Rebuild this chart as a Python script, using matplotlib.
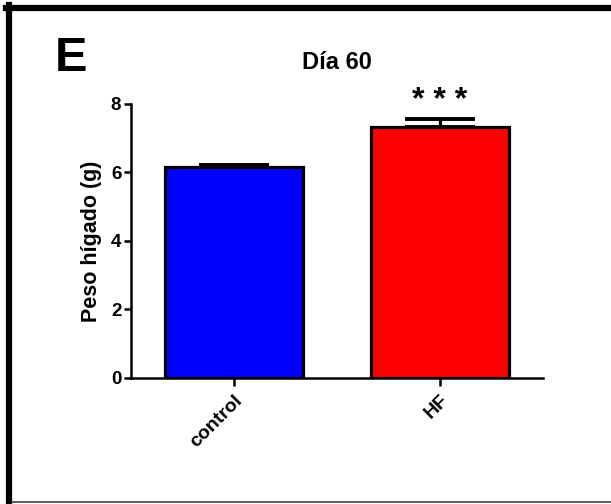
import numpy as np
import matplotlib.pyplot as plt
from matplotlib.lines import Line2D

plt.rcParams["font.family"] = ["Liberation Sans", "DejaVu Sans"]
plt.rcParams["font.weight"] = "bold"

groups = ["control", "HF"]
means = [6.15, 7.34]
sems = [0.08, 0.22]
colors = ["#0000ff", "#ff0000"]
yticks = [0, 2, 4, 6, 8]

fig = plt.figure(figsize=(6.11, 5.04), dpi=100)
ax = fig.add_axes([0.2144, 0.25, 0.6743, 0.5437])

x = np.arange(len(groups))
ax.bar(x, means, width=0.67, color=colors, edgecolor="black", linewidth=2.3, zorder=2)
ax.errorbar(x, means, yerr=[[0] * len(sems), sems], fmt="none", ecolor="black",
            elinewidth=2.3, capsize=25, capthick=2.8, zorder=3)

ax.set_xlim(-0.5, 1.5)
ax.set_ylim(0, 8)
ax.set_yticks(yticks)
ax.set_xticks(x)
ax.set_xticklabels(groups, rotation=45, ha="right", rotation_mode="anchor", fontsize=14)
ax.tick_params(axis="y", labelsize=13.5, width=1.8, length=5, pad=2)
ax.tick_params(axis="x", width=1.8, length=6, pad=4)
for lab in ax.get_yticklabels() + ax.get_xticklabels():
    lab.set_fontweight("bold")

for side in ["top", "right"]:
    ax.spines[side].set_visible(False)
for side in ["left", "bottom"]:
    ax.spines[side].set_linewidth(1.8)

ax.set_ylabel("Peso hígado (g)", fontsize=15.5, fontweight="bold", labelpad=6)
ax.set_title("Día 60", fontsize=17, fontweight="bold", pad=25)

# significance stars above HF
ax.text(x[1], means[1] + sems[1] + 0.08, "* * *", ha="center", va="bottom",
        fontsize=23, fontweight="bold")

# panel letter
fig.text(0.09, 0.84, "E", fontsize=35, fontweight="heavy", ha="left", va="bottom")

# picture frame
fig.add_artist(Line2D([6 / 611, 1], [1 - 8 / 504] * 2, color="black", lw=4.5,
                      transform=fig.transFigure))
fig.add_artist(Line2D([9 / 611] * 2, [0, 1 - 5 / 504], color="black", lw=4.5,
                      transform=fig.transFigure))
fig.add_artist(Line2D([12 / 611, 1], [2 / 504] * 2, color="#444444", lw=1.2,
                      transform=fig.transFigure))

fig.savefig("out.png", dpi=100)
